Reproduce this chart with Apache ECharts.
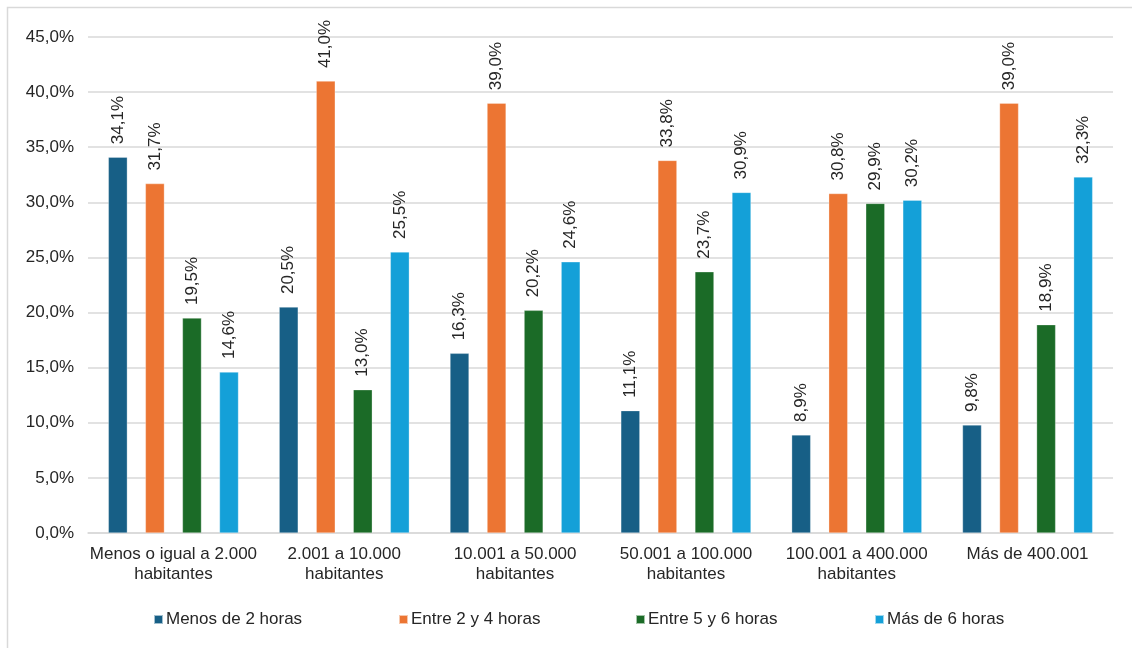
<!DOCTYPE html>
<html><head><meta charset="utf-8">
<script src="https://cdn.jsdelivr.net/npm/echarts@6/dist/echarts.min.js"></script>
<style>html,body{margin:0;padding:0;background:#fff}#c{width:1132px;height:648px}</style>
</head><body><div id="c"></div>
<script>
const categories = ['Menos o igual a 2.000\nhabitantes','2.001 a 10.000\nhabitantes','10.001 a 50.000\nhabitantes','50.001 a 100.000\nhabitantes','100.001 a 400.000\nhabitantes','Más de 400.001'];
const seriesNames = ['Menos de 2 horas','Entre 2 y 4 horas','Entre 5 y 6 horas','Más de 6 horas'];
const menos2 = [34.1, 20.5, 16.3, 11.1, 8.9, 9.8];
const entre2y4 = [31.7, 41.0, 39.0, 33.8, 30.8, 39.0];
const entre5y6 = [19.5, 13.0, 20.2, 23.7, 29.9, 18.9];
const mas6 = [14.6, 25.5, 24.6, 30.9, 30.2, 32.3];
const colors = ['#175F86','#EC7533','#1B6B27','#14A0D8'];
const legendLeft = [148, 393, 630, 869];
const fmt = v => v.toFixed(1).replace('.', ',') + '%';
const font = 'Liberation Sans, Arial, sans-serif';
const chart = echarts.init(document.getElementById('c'));
const data = [menos2, entre2y4, entre5y6, mas6];
chart.setOption({
  animation:false,
  textStyle:{fontFamily:font},
  graphic:[{type:'rect',shape:{x:7.5,y:7.5,width:1200,height:700},style:{fill:'none',stroke:'#d9d9d9',lineWidth:1.5},silent:true}],
  grid:{left:88,right:19,top:37,bottom:115,containLabel:false},
  legend: seriesNames.map((n,i)=>({top:606,left:legendLeft[i],itemWidth:9,itemHeight:9,itemGap:0,icon:'rect',
    textStyle:{fontSize:17,color:'#262626',fontFamily:font,padding:[0,0,0,-2]},data:[n]})),
  xAxis:{type:'category',data:categories,
    axisLine:{lineStyle:{color:'#d9d9d9',width:1.5}},axisTick:{show:false},
    axisLabel:{fontSize:17,color:'#262626',lineHeight:20,margin:11,interval:0,fontFamily:font}},
  yAxis:{type:'value',min:0,max:45,interval:5,
    axisLabel:{formatter:v=>v.toFixed(1).replace('.',',')+'%',fontSize:17,color:'#262626',margin:14,fontFamily:font},
    splitLine:{lineStyle:{color:'#d9d9d9',width:1.5}},axisLine:{show:false},axisTick:{show:false}},
  series: seriesNames.map((n,i)=>({
    name:n,type:'bar',data:data[i],barWidth:19,barGap:'95%',barCategoryGap:'24%',
    itemStyle:{color:colors[i],borderColor:'rgba(255,255,255,0.6)',borderWidth:0.5},
    label:{show:true,position:'top',rotate:90,align:'left',verticalAlign:'middle',distance:13,
      formatter:p=>fmt(p.value),fontSize:17,color:'#262626',fontFamily:font}
  }))
});
</script></body></html>
